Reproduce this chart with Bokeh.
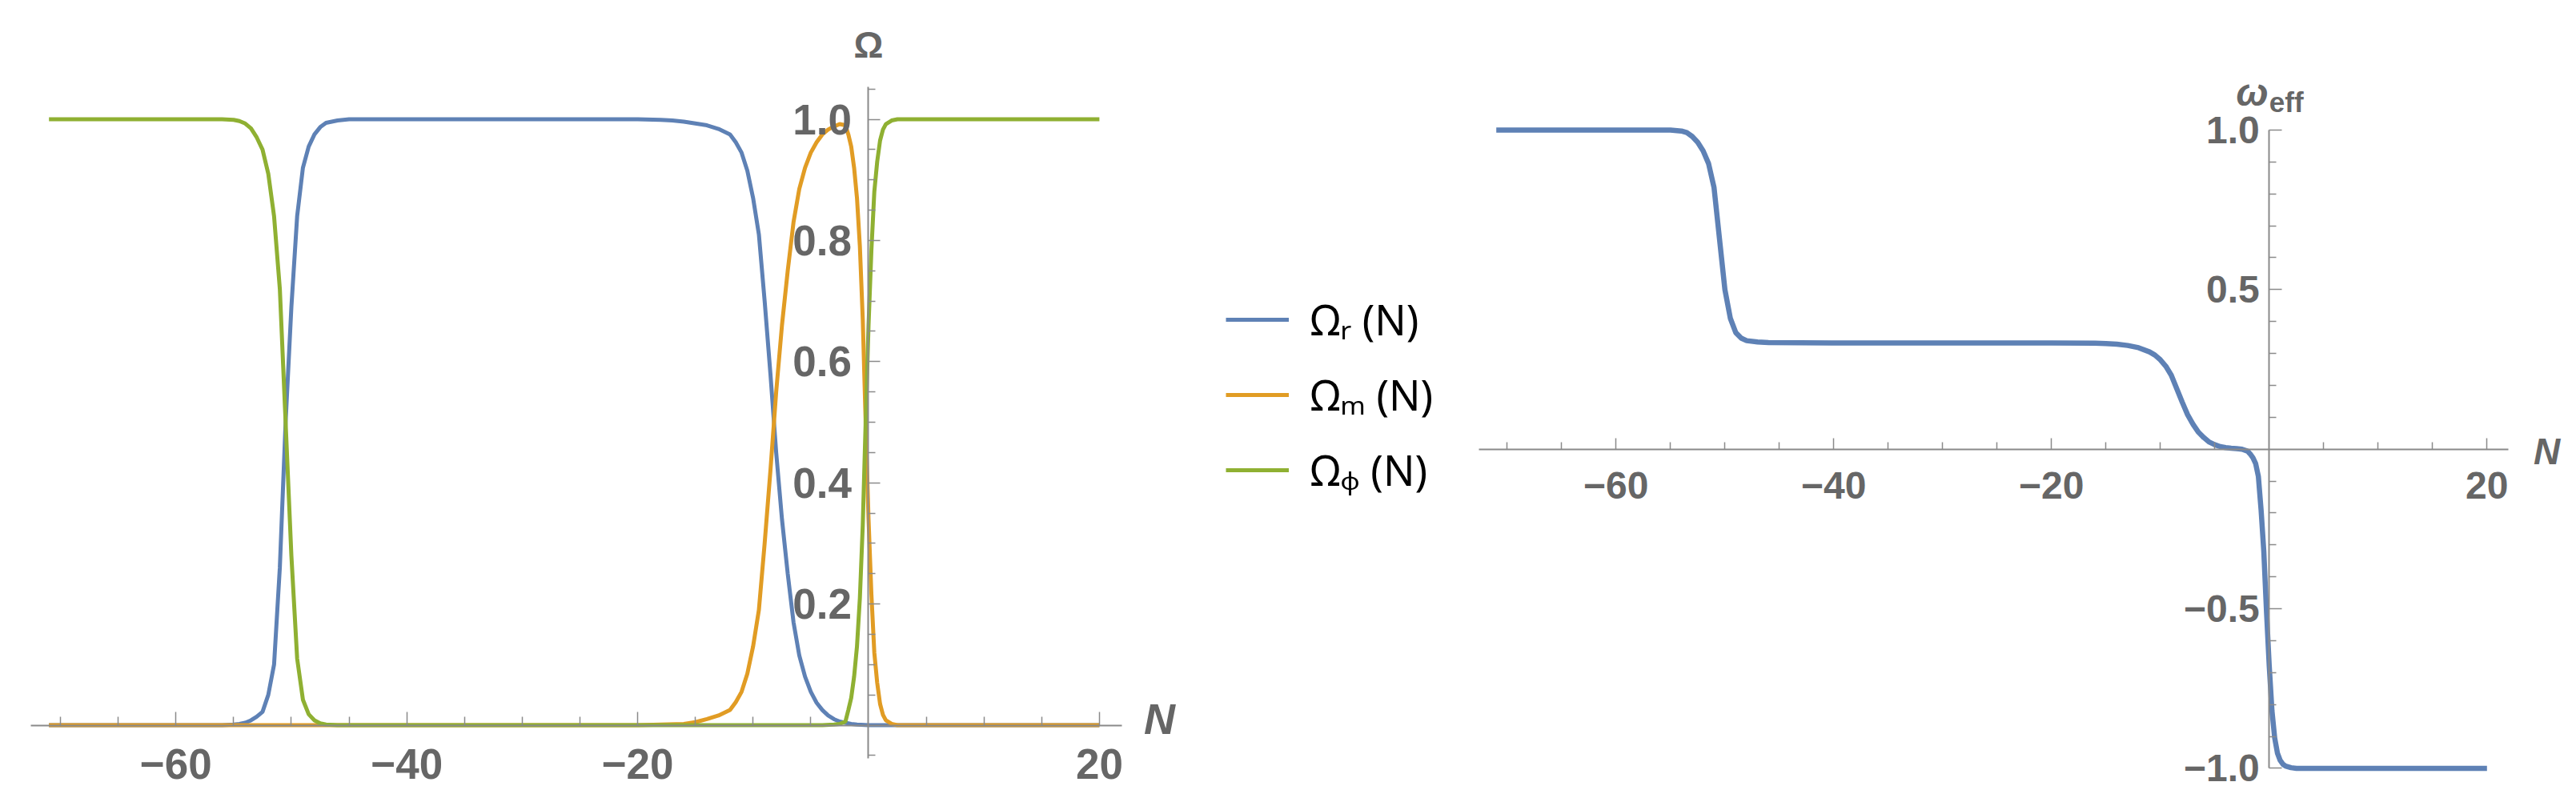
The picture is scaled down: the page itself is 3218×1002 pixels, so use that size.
from bokeh.plotting import figure
from bokeh.models import Range1d, FixedTicker, Label, Legend, LegendItem
from bokeh.layouts import row
from bokeh.embed import file_html
from bokeh.resources import INLINE

# ---------------- data ----------------
# Left panel: density parameters vs N
n_r = [-71, -56, -55, -54.5, -54, -53.5, -53, -52.5, -52, -51.5, -51, -50.5, -50, -49.5,
       -49, -48.5, -48, -47.5, -47, -46, -45, -40, -30, -20, -18, -17, -16, -15, -14, -13,
       -12, -11.5, -11, -10.5, -10, -9.5, -9, -8.5, -8, -7.5, -7, -6.5, -6, -5.5, -5, -4.5,
       -4, -3.5, -3, -2.5, -2, -1.5, -1, 0, 10, 20]
omega_r = [0, 0, 0.001, 0.002, 0.004, 0.008, 0.014, 0.022, 0.05, 0.1, 0.26, 0.5, 0.69, 0.84,
           0.92, 0.955, 0.975, 0.987, 0.994, 0.998, 1.0, 1.0, 1.0, 1.0, 0.999, 0.998, 0.996,
           0.993, 0.99, 0.984, 0.975, 0.962, 0.945, 0.915, 0.87, 0.81, 0.7, 0.58, 0.45, 0.34,
           0.25, 0.17, 0.115, 0.08, 0.055, 0.037, 0.025, 0.016, 0.01, 0.006, 0.004, 0.002,
           0.001, 0, 0, 0]

n_m = [-71, -20, -16, -15, -14, -13, -12, -11.5, -11, -10.5, -10, -9.5, -9, -8.5, -8, -7.5,
       -7, -6.5, -6, -5.5, -5, -4.5, -4, -3.5, -3, -2.5, -2, -1.75, -1.5, -1.25, -1, -0.75,
       -0.5, -0.25, 0, 0.25, 0.5, 0.75, 1, 1.25, 1.5, 2, 2.5, 10, 20]
omega_m = [0, 0, 0.002, 0.005, 0.01, 0.016, 0.025, 0.038, 0.055, 0.085, 0.13, 0.19, 0.3, 0.42,
           0.55, 0.66, 0.75, 0.83, 0.885, 0.92, 0.945, 0.962, 0.975, 0.983, 0.988, 0.992, 0.99,
           0.975, 0.955, 0.92, 0.87, 0.79, 0.67, 0.5, 0.34, 0.215, 0.12, 0.07, 0.035, 0.017,
           0.008, 0.002, 0, 0, 0]

n_phi = [-71, -56, -55, -54.5, -54, -53.5, -53, -52.5, -52, -51.5, -51, -50.5, -50, -49.5, -49,
         -48.5, -48, -47.5, -47, -46, -20, -4, -3, -2.5, -2, -1.75, -1.5, -1.25, -1, -0.75,
         -0.5, -0.25, 0, 0.25, 0.5, 0.75, 1, 1.25, 1.5, 2, 2.5, 3, 10, 20]
omega_phi = [1.0, 1.0, 0.999, 0.997, 0.993, 0.985, 0.97, 0.95, 0.91, 0.84, 0.72, 0.5, 0.28, 0.11,
             0.042, 0.018, 0.008, 0.003, 0.001, 0, 0, 0, 0.001, 0.002, 0.006, 0.025, 0.045,
             0.08, 0.13, 0.21, 0.33, 0.5, 0.66, 0.785, 0.88, 0.93, 0.965, 0.983, 0.992, 0.998,
             1.0, 1.0, 1.0, 1.0]

# Right panel: effective equation of state vs N
n_w = [-71, -60, -55, -54, -53.5, -53, -52.5, -52, -51.5, -51, -50.5, -50, -49.5, -49, -48.5,
       -48, -47, -46, -40, -20, -16, -15, -14, -13, -12, -11, -10.5, -10, -9.5, -9, -8.5, -8,
       -7.5, -7, -6.5, -6, -5.5, -5, -4.5, -4, -3.5, -3, -2.5, -2, -1.75, -1.5, -1.25, -1,
       -0.75, -0.5, -0.25, 0, 0.25, 0.5, 0.75, 1, 1.25, 1.5, 2, 2.5, 5, 10, 20]
w_eff = [1.0, 1.0, 1.0, 0.997, 0.992, 0.98, 0.962, 0.935, 0.895, 0.82, 0.66, 0.5, 0.41, 0.365,
         0.348, 0.34, 0.336, 0.334, 0.333, 0.333, 0.332, 0.331, 0.329, 0.325, 0.318, 0.305,
         0.295, 0.28, 0.26, 0.232, 0.19, 0.148, 0.108, 0.078, 0.053, 0.036, 0.022, 0.014,
         0.008, 0.005, 0.003, 0.002, 0.0, -0.006, -0.015, -0.027, -0.045, -0.085, -0.19,
         -0.32, -0.51, -0.68, -0.82, -0.905, -0.952, -0.975, -0.987, -0.993, -0.998, -1.0,
         -1.0, -1.0, -1.0]

# ticks and labels
x_major = [-60, -40, -20, 20]
x_minor = [-70, -65, -55, -50, -45, -35, -30, -25, -15, -10, -5, 5, 10, 15]
x_labels = {-60: "\u221260", -40: "\u221240", -20: "\u221220", 20: "20"}
ly_major = [0.2, 0.4, 0.6, 0.8, 1.0]
ly_minor = [-0.05, 0.05, 0.1, 0.15, 0.25, 0.3, 0.35, 0.45, 0.5, 0.55, 0.65, 0.7, 0.75,
            0.85, 0.9, 0.95, 1.05]
ly_labels = {0.2: "0.2", 0.4: "0.4", 0.6: "0.6", 0.8: "0.8", 1.0: "1.0"}
ry_major = [-1.0, -0.5, 0.5, 1.0]
ry_minor = [-0.9, -0.8, -0.7, -0.6, -0.4, -0.3, -0.2, -0.1, 0.1, 0.2, 0.3, 0.4, 0.6, 0.7,
            0.8, 0.9]
ry_labels = {-1.0: "\u22121.0", -0.5: "\u22120.5", 0.5: "0.5", 1.0: "1.0"}
legend_labels = ["\u03a9\u1d63 (N)", "\u03a9\u2098 (N)", "\u03a9\u1d69 (N)"]

BLUE, ORANGE, GREEN = "#5E81B5", "#E19C24", "#8FB032"
AX = "#8a8a8a"
TXT = "#666666"
FONT = "Liberation Sans"


def style_axes(p, xmaj_in, xmin_in, ymaj_in, ymin_in, xfs, yfs, ystandoff, xstandoff):
    p.xaxis.fixed_location = 0
    p.yaxis.fixed_location = 0
    for ax in (p.xaxis[0], p.yaxis[0]):
        ax.axis_line_color = AX
        ax.axis_line_width = 2
        ax.major_tick_line_color = AX
        ax.minor_tick_line_color = AX
        ax.major_tick_line_width = 1.5
        ax.minor_tick_line_width = 1.5
        ax.major_tick_out = 0
        ax.minor_tick_out = 0
        ax.major_label_text_font = FONT
        ax.major_label_text_font_style = "bold"
        ax.major_label_text_color = TXT
    p.xaxis.major_tick_in = xmaj_in
    p.xaxis.minor_tick_in = xmin_in
    p.yaxis.major_tick_in = ymaj_in
    p.yaxis.minor_tick_in = ymin_in
    p.xaxis.major_label_text_font_size = xfs
    p.yaxis.major_label_text_font_size = yfs
    p.xaxis.major_label_standoff = xstandoff
    p.yaxis.major_label_standoff = ystandoff
    p.xgrid.visible = False
    p.ygrid.visible = False
    p.outline_line_color = None


# ---------------- left panel ----------------
p1 = figure(output_backend="svg", toolbar_location=None,
            frame_width=1800, frame_height=1000,
            min_border_left=0, min_border_right=0, min_border_top=0, min_border_bottom=0,
            x_range=Range1d(-75.208, 49.619), y_range=Range1d(-0.12483, 1.19617))
style_axes(p1, 17, 11, 15, 9, "53px", "53px", 21, 30)
p1.xaxis.ticker = FixedTicker(ticks=x_major, minor_ticks=x_minor)
p1.xaxis.major_label_overrides = x_labels
p1.xaxis.bounds = (-72.57, 21.95)
p1.yaxis.ticker = FixedTicker(ticks=ly_major, minor_ticks=ly_minor)
p1.yaxis.major_label_overrides = ly_labels
p1.yaxis.bounds = (-0.0544, 1.0535)

r1 = p1.line(n_r, omega_r, line_color=BLUE, line_width=5)
r2 = p1.line(n_m, omega_m, line_color=ORANGE, line_width=5)
r3 = p1.line(n_phi, omega_phi, line_color=GREEN, line_width=5)

p1.add_layout(Label(x=0, y=1.1235, text="\u03a9", text_align="center", text_baseline="middle",
                    text_font=FONT, text_font_style="bold", text_font_size="46px",
                    text_color=TXT))
p1.add_layout(Label(x=25.2, y=0.01, text="N", text_align="center", text_baseline="middle",
                    text_font=FONT, text_font_style="bold italic", text_font_size="54px",
                    text_color=TXT))

legend = Legend(items=[LegendItem(label=legend_labels[0], renderers=[r1]),
                       LegendItem(label=legend_labels[1], renderers=[r2]),
                       LegendItem(label=legend_labels[2], renderers=[r3])],
                location=(1531, 378), padding=0, margin=0, spacing=23,
                glyph_width=79, glyph_height=70, label_height=70, label_standoff=27,
                label_text_font="Noto Sans", label_text_font_size="52px",
                label_text_color="black", border_line_color=None,
                background_fill_alpha=0)
p1.add_layout(legend)

# ---------------- right panel ----------------
p2 = figure(output_backend="svg", toolbar_location=None,
            frame_width=1416, frame_height=1000,
            min_border_left=0, min_border_right=0, min_border_top=0, min_border_bottom=0,
            x_range=Range1d(-76.051, 28.066), y_range=Range1d(-1.10183, 1.40632))
style_axes(p2, 14, 9, 16, 9, "48px", "48px", 12, 29)
p2.xaxis.ticker = FixedTicker(ticks=x_major, minor_ticks=x_minor)
p2.xaxis.major_label_overrides = x_labels
p2.xaxis.bounds = (-72.57, 21.95)
p2.yaxis.ticker = FixedTicker(ticks=ry_major, minor_ticks=ry_minor)
p2.yaxis.major_label_overrides = ry_labels
p2.yaxis.bounds = (-1, 1)

p2.line(n_w, w_eff, line_color=BLUE, line_width=6.5)

p2.add_layout(Label(x=-0.1, y=1.1179, text="\u03c9", text_align="right",
                    text_baseline="middle", text_font=FONT,
                    text_font_style="bold italic", text_font_size="48px", text_color=TXT))
p2.add_layout(Label(x=0, y=1.0878, text="eff", text_align="left",
                    text_baseline="middle", text_font=FONT,
                    text_font_style="bold", text_font_size="35px", text_color=TXT))
p2.add_layout(Label(x=25.5, y=-0.006, text="N", text_align="center", text_baseline="middle",
                    text_font=FONT, text_font_style="bold italic", text_font_size="46px",
                    text_color=TXT))

layout = row(p1, p2)
open("out.html", "w").write(file_html(layout, INLINE))
